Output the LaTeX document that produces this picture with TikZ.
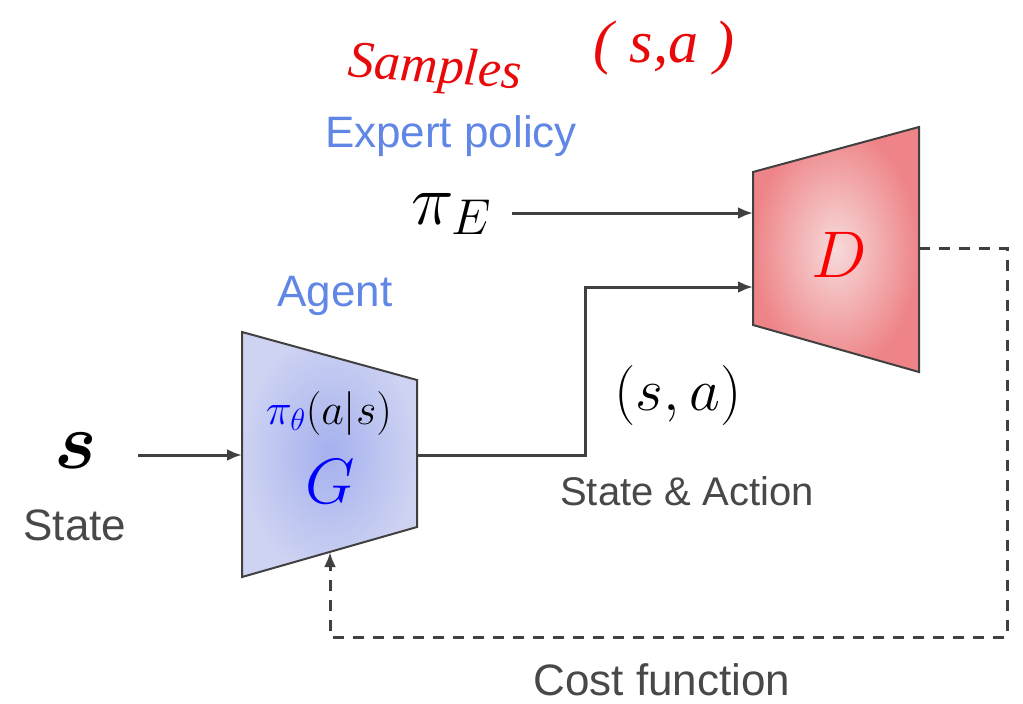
\RequirePackage{fix-cm}
\documentclass[tikz,border=0pt]{standalone}
\usepackage{amsmath, amssymb}
\usepackage{fontspec}
\setsansfont{Liberation Sans}
\newfontfamily\handfont{Liberation Serif}
\usepackage{tikz}
\usetikzlibrary{arrows.meta}

\definecolor{lineGray}{RGB}{64,64,64}
\definecolor{textGray}{RGB}{72,72,72}
\definecolor{labelBlue}{RGB}{96,134,230}
\definecolor{agentIn}{RGB}{165,176,238}
\definecolor{agentOut}{RGB}{206,211,242}
\definecolor{discIn}{RGB}{247,218,218}
\definecolor{discOut}{RGB}{238,132,136}
\definecolor{penRed}{RGB}{232,10,10}

\begin{document}
\begin{tikzpicture}[x=1pt,y=1pt,yscale=-1,xscale=1,
  flow/.style={draw=lineGray,line width=3pt,-{Latex[length=15pt,width=12pt]}},
  back/.style={flow,dash pattern={on 11pt off 9pt}},
  box/.style={draw=lineGray,line width=2pt,line join=miter},
  caption/.style={inner sep=0.75pt,text=textGray,font=\sffamily\fontsize{44}{50}\selectfont},
  title/.style={caption,text=labelBlue},
  symb/.style={inner sep=0.75pt,font=\fontsize{#1}{#1}\selectfont},
  pen/.style={inner sep=0pt,text=penRed,font=\handfont\itshape\fontsize{#1}{#1}\selectfont}]
\useasboundingbox (0,0) rectangle (1023,704);

%Shape: Trapezoid (agent G)
\draw [box,inner color=agentIn,outer color=agentOut] (242,332) -- (417,380) -- (417,527) -- (242,577) -- cycle ;
%Shape: Trapezoid (discriminator D)
\draw [box,inner color=discIn,outer color=discOut] (753,172) -- (919,127) -- (919,372) -- (753,325) -- cycle ;

%ports on the two blocks
\coordinate (G-in) at (242,455);
\coordinate (G-out) at (417,455);
\coordinate (G-fb) at (330,552);
\coordinate (D-in1) at (753,213);
\coordinate (D-in2) at (753,287);
\coordinate (D-out) at (919,248);

% Text Node
\draw (76,451) node (s) [symb=80] {$\boldsymbol{s}$};
% Text Node
\draw (75,540) node (state) [caption,anchor=base] {State};
% Text Node
\draw (335,306) node (agent) [title,anchor=base] {Agent};
% Text Node
\draw (329,413) node (policy) [symb=44] {$\color{blue}\pi_\theta\color{black}(a|s)$};
% Text Node
\draw (330,482) node (G) [symb=64,text=blue] {$G$};
% Text Node
\draw (839,255) node (D) [symb=66,text=red] {$D$};
% Text Node
\draw (451,147) node (expert) [title,anchor=base] {Expert policy};
% Text Node
\draw (451,214) node (piE) [symb=72] {$\pi_E$};
% Text Node
\draw (678,395) node (sa) [symb=60] {$(s,a)$};
% Text Node
\draw (687,505) node (stact) [caption,anchor=base,font=\sffamily\fontsize{40}{46}\selectfont] {State \& Action};
% Text Node
\draw (662,695) node (cost) [caption,anchor=base] {Cost function};
% Text Node
\draw (435,70) node (samples) [pen=52,rotate=-4] {Samples};
% Text Node
\draw (664,48) node (pair) [pen=60] {(\;s,a\;)};

%Arrows
\draw [flow,shorten <=40pt] (G-in -| s.east) -- (G-in) ;
\draw [flow,shorten <=20pt] (D-in1 -| piE.east) -- (D-in1) ;
\draw [flow] (G-out) -- (585,455) |- (D-in2) ;
\draw [back] (D-out) -| (1007,637) -| (G-fb) ;

\end{tikzpicture}
\end{document}
